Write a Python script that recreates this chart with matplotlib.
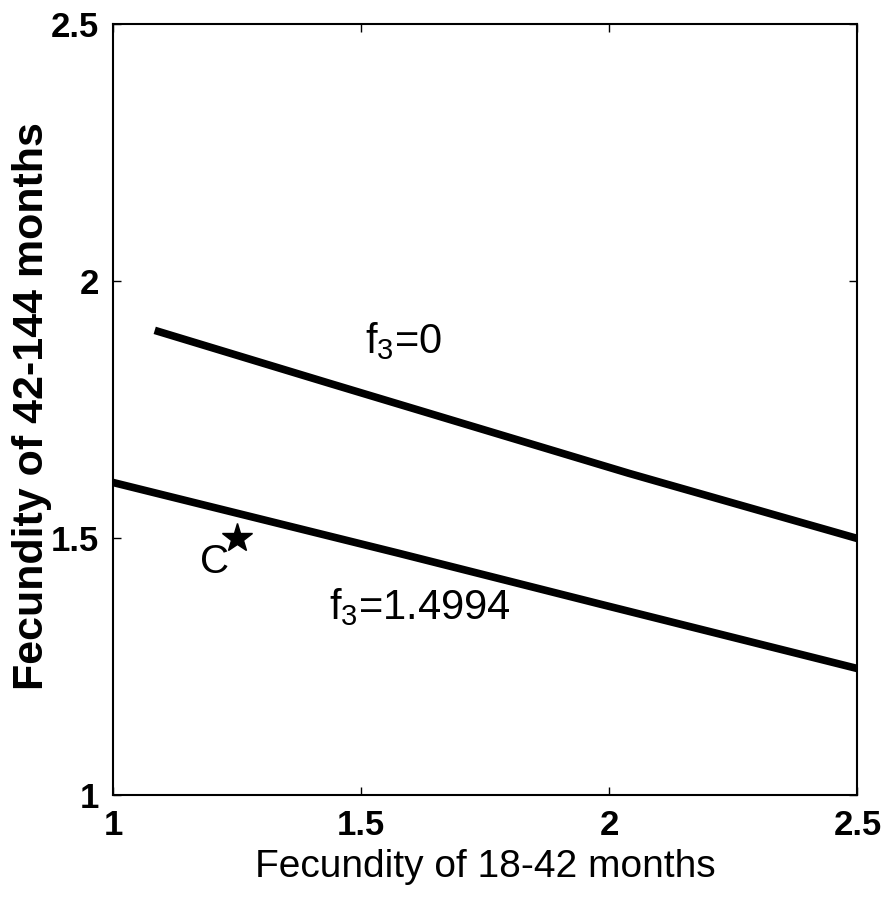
import numpy as np
import matplotlib.pyplot as plt

narrow = ['Liberation Sans Narrow', 'Liberation Sans', 'DejaVu Sans']
wide = ['Liberation Sans', 'DejaVu Sans']
plt.rcParams['mathtext.fontset'] = 'custom'
plt.rcParams['mathtext.rm'] = 'Liberation Sans'
plt.rcParams['mathtext.it'] = 'Liberation Sans'

# f3 = 0 curve
x_f0 = [1.084, 1.436, 2.039, 2.5]
y_f0 = [1.904, 1.801, 1.626, 1.499]
# f3 = 1.4994 curve
x_f1 = [1.0, 1.577, 1.979, 2.5]
y_f1 = [1.608, 1.470, 1.372, 1.246]
# point C
point_c = (1.25, 1.5)

ticks = [1, 1.5, 2, 2.5]
tick_labels = ['1', '1.5', '2', '2.5']

fig = plt.figure(figsize=(8.83, 9.07), dpi=100)
ax = fig.add_axes([0.128, 0.1235, 0.843, 0.85])

ax.plot(x_f0, y_f0, color='black', lw=5.5, solid_capstyle='butt')
ax.plot(x_f1, y_f1, color='black', lw=5.5, solid_capstyle='butt')
ax.plot(*point_c, marker='*', color='black', markersize=22)

ax.text(1.507, 1.859, r'f$_3$=0', fontsize=30, family=narrow)
ax.text(1.436, 1.343, r'f$_3$=1.4994', fontsize=30, family=narrow)
ax.text(1.175, 1.431, 'C', fontsize=29, family=narrow)

ax.set_xlim(1, 2.5)
ax.set_ylim(1, 2.5)
ax.set_xticks(ticks)
ax.set_xticklabels(tick_labels)
ax.set_yticks(ticks)
ax.set_yticklabels(tick_labels)
ax.tick_params(direction='in', length=6, width=1, top=True, right=True, pad=10)
for lab in ax.get_xticklabels() + ax.get_yticklabels():
    lab.set_family(narrow)
    lab.set_fontweight('bold')
    lab.set_fontsize(25)
for s in ax.spines.values():
    s.set_linewidth(1.5)

ax.set_xlabel('Fecundity of 18-42 months', fontsize=28, family=narrow, labelpad=5)
fig.text(12 / 883, 1 - 406 / 907, 'Fecundity of 42-144 months', rotation=90,
         ha='left', va='center', fontsize=31, family=wide, fontweight='bold')

fig.savefig('out.png', dpi=100)
